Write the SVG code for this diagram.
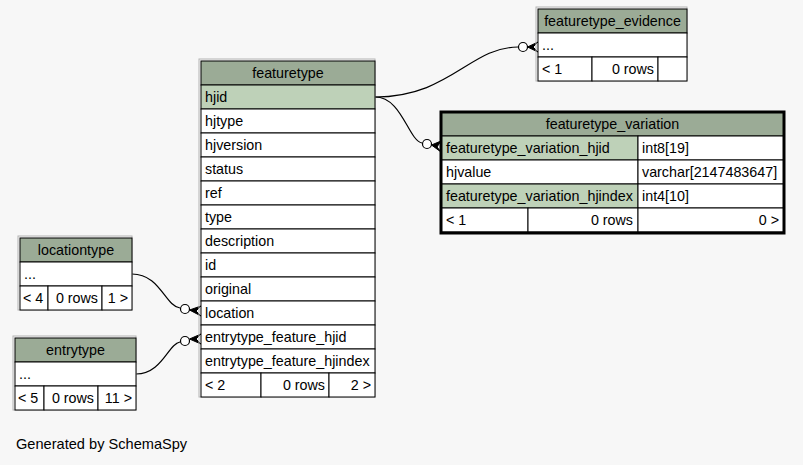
<svg xmlns="http://www.w3.org/2000/svg" width="803" height="465" viewBox="0 0 803 465">
  <style>
    text { font-family: "Liberation Sans", Arial, sans-serif; font-size: 14.3px; fill: #000; }
    .mid { text-anchor: middle; }
    .end { text-anchor: end; }
    .foot { font-size: 14.6px; }
    .hdr { fill: #9bab96; stroke: #000; stroke-width: 1; }
    .pk { fill: #bed1b8; stroke: #000; stroke-width: 1; }
    .row { fill: #ffffff; stroke: #000; stroke-width: 1; }
    .shadow { fill: none; stroke: #b4b4b4; stroke-width: 1; }
    .edge { fill: none; stroke: #000; stroke-width: 1.2; }
    .odot { fill: #fff; stroke: #000; stroke-width: 1.2; }
    .crow { fill: #000; stroke: #000; stroke-width: 1; }
    .frame { fill: none; stroke: #000; stroke-width: 3; }
  </style>
  <rect width="803" height="465" fill="#f7f7f7"/>

  <g id="connectors">
    <!-- featuretype.hjid -> featuretype_evidence -->
    <path class="edge" d="M375,97 C450,97 470,47 518,47"/>
    <circle class="odot" cx="523" cy="47" r="4.5"/>
    <path class="crow" d="M527.5,47 L538,42 L533,47 L538,52 Z"/>
    <!-- featuretype.hjid -> featuretype_variation -->
    <path class="edge" d="M375,97 C402,97 408,140 422,143"/>
    <circle class="odot" cx="427" cy="144" r="4.5"/>
    <path class="crow" d="M431.5,145 L441,141 L437,147 L441,152 Z"/>
    <!-- locationtype -> featuretype.location -->
    <path class="edge" d="M132,274 C160,274 165,306 180,308"/>
    <circle class="odot" cx="185" cy="309" r="4.5"/>
    <path class="crow" d="M189.5,310 L201,306 L196,311 L201,316 Z"/>
    <!-- entrytype -> featuretype.entrytype_feature_hjid -->
    <path class="edge" d="M136,374 C162,374 168,344 180,342"/>
    <circle class="odot" cx="185" cy="341" r="4.5"/>
    <path class="crow" d="M189.5,339 L201,334 L196,339 L201,344 Z"/>
  </g>

  <g id="featuretype">
    <rect class="shadow" x="199" y="59" width="176" height="338"/>
    <rect class="hdr" x="201" y="61" width="174" height="24"/>
    <text class="mid" x="288" y="78">featuretype</text>
    <rect class="pk" x="201" y="85" width="174" height="24"/>
    <text x="205" y="102">hjid</text>
    <rect class="row" x="201" y="109" width="174" height="24"/>
    <text x="205" y="126">hjtype</text>
    <rect class="row" x="201" y="133" width="174" height="24"/>
    <text x="205" y="150">hjversion</text>
    <rect class="row" x="201" y="157" width="174" height="24"/>
    <text x="205" y="174">status</text>
    <rect class="row" x="201" y="181" width="174" height="24"/>
    <text x="205" y="198">ref</text>
    <rect class="row" x="201" y="205" width="174" height="24"/>
    <text x="205" y="222">type</text>
    <rect class="row" x="201" y="229" width="174" height="24"/>
    <text x="205" y="246">description</text>
    <rect class="row" x="201" y="253" width="174" height="24"/>
    <text x="205" y="270">id</text>
    <rect class="row" x="201" y="277" width="174" height="24"/>
    <text x="205" y="294">original</text>
    <rect class="row" x="201" y="301" width="174" height="24"/>
    <text x="205" y="318">location</text>
    <rect class="row" x="201" y="325" width="174" height="24"/>
    <text x="205" y="342">entrytype_feature_hjid</text>
    <rect class="row" x="201" y="349" width="174" height="24"/>
    <text x="205" y="366">entrytype_feature_hjindex</text>
    <rect class="row" x="201" y="373" width="60" height="24"/>
    <rect class="row" x="261" y="373" width="68" height="24"/>
    <rect class="row" x="329" y="373" width="46" height="24"/>
    <text x="205" y="390">&lt; 2</text>
    <text class="end" x="325" y="390">0 rows</text>
    <text class="end" x="371" y="390">2 &gt;</text>
  </g>

  <g id="featuretype_evidence">
    <rect class="shadow" x="536" y="7" width="151" height="74"/>
    <rect class="hdr" x="538" y="9" width="149" height="24"/>
    <text class="mid" x="612.5" y="26">featuretype_evidence</text>
    <rect class="row" x="538" y="33" width="149" height="24"/>
    <text x="542" y="50">...</text>
    <rect class="row" x="538" y="57" width="54" height="24"/>
    <rect class="row" x="592" y="57" width="66" height="24"/>
    <rect class="row" x="658" y="57" width="29" height="24"/>
    <text x="542" y="74">&lt; 1</text>
    <text class="end" x="654" y="74">0 rows</text>
  </g>

  <g id="featuretype_variation">
    <rect class="hdr" x="441" y="112" width="343" height="24"/>
    <text class="mid" x="612.5" y="129">featuretype_variation</text>
    <rect class="pk" x="441" y="136" width="197" height="24"/>
    <rect class="row" x="638" y="136" width="146" height="24"/>
    <text x="446" y="153">featuretype_variation_hjid</text>
    <text x="642" y="153">int8[19]</text>
    <rect class="row" x="441" y="160" width="197" height="24"/>
    <rect class="row" x="638" y="160" width="146" height="24"/>
    <text x="446" y="177">hjvalue</text>
    <text x="642" y="177">varchar[2147483647]</text>
    <rect class="pk" x="441" y="184" width="197" height="24"/>
    <rect class="row" x="638" y="184" width="146" height="24"/>
    <text x="446" y="201">featuretype_variation_hjindex</text>
    <text x="642" y="201">int4[10]</text>
    <rect class="row" x="441" y="208" width="87" height="24"/>
    <rect class="row" x="528" y="208" width="110" height="24"/>
    <rect class="row" x="638" y="208" width="146" height="24"/>
    <text x="446" y="225">&lt; 1</text>
    <text class="end" x="633" y="225">0 rows</text>
    <text class="end" x="779" y="225">0 &gt;</text>
    <rect class="frame" x="441" y="112" width="343" height="121"/>
  </g>

  <g id="locationtype">
    <rect class="shadow" x="18" y="236" width="114" height="74"/>
    <rect class="hdr" x="20" y="238" width="112" height="24"/>
    <text class="mid" x="76" y="255">locationtype</text>
    <rect class="row" x="20" y="262" width="112" height="24"/>
    <text x="24" y="279">...</text>
    <rect class="row" x="20" y="286" width="28" height="24"/>
    <rect class="row" x="48" y="286" width="54" height="24"/>
    <rect class="row" x="102" y="286" width="30" height="24"/>
    <text x="23" y="303">&lt; 4</text>
    <text class="end" x="98" y="303">0 rows</text>
    <text class="end" x="128" y="303">1 &gt;</text>
  </g>

  <g id="entrytype">
    <rect class="shadow" x="13" y="336" width="123" height="74"/>
    <rect class="hdr" x="15" y="338" width="121" height="24"/>
    <text class="mid" x="75.5" y="355">entrytype</text>
    <rect class="row" x="15" y="362" width="121" height="24"/>
    <text x="19" y="379">...</text>
    <rect class="row" x="15" y="386" width="29" height="24"/>
    <rect class="row" x="44" y="386" width="54" height="24"/>
    <rect class="row" x="98" y="386" width="38" height="24"/>
    <text x="18" y="403">&lt; 5</text>
    <text class="end" x="94" y="403">0 rows</text>
    <text class="end" x="132" y="403">11 &gt;</text>
  </g>

  <text class="foot" x="16" y="449">Generated by SchemaSpy</text>
</svg>
